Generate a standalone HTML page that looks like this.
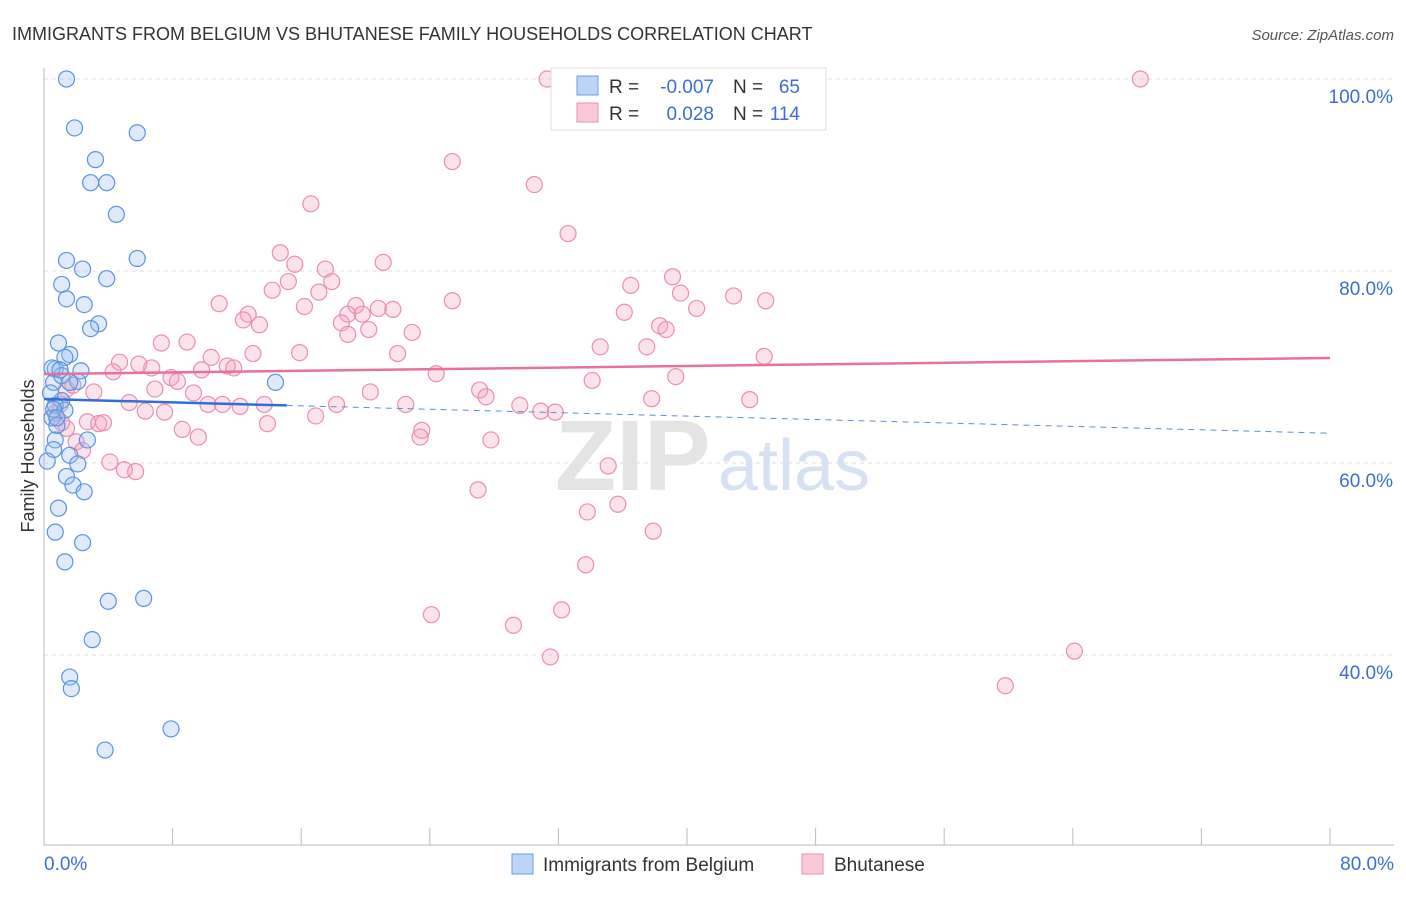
<!DOCTYPE html>
<html><head><meta charset="utf-8"><style>
body{margin:0;background:#fff;font-family:"Liberation Sans",sans-serif;}
svg text{font-family:"Liberation Sans",sans-serif;}
</style></head><body>
<svg id="chart" width="1406" height="892" xmlns="http://www.w3.org/2000/svg">
<text x="12" y="40" font-size="18" fill="#333">IMMIGRANTS FROM BELGIUM VS BHUTANESE FAMILY HOUSEHOLDS CORRELATION CHART</text>
<text x="1394" y="40" font-size="15" fill="#555" text-anchor="end" font-style="italic">Source: ZipAtlas.com</text>
<g id="grid"></g>
<text x="555" y="490" font-size="100" fill="#e4e4e4" font-family="Liberation Serif" font-weight="bold">ZIP</text>
<text x="718" y="490" font-size="72" fill="#d6e2f3">atlas</text>
<g id="pts"></g>
<g id="lines"></g>
<text transform="translate(34,456) rotate(-90)" font-size="18" fill="#333" text-anchor="middle">Family Households</text>
<g>
<rect x="551" y="68" width="275" height="62" fill="#fff" stroke="#ddd"/>
<rect x="577" y="76" width="21" height="19" fill="#bcd5f5" stroke="#6a9ee0"/>
<rect x="577" y="103" width="21" height="19" fill="#f9c9d8" stroke="#ea8fae"/>
<text x="609" y="93" font-size="19" fill="#333">R =</text>
<text x="714" y="93" font-size="19" fill="#3b6fd4" text-anchor="end">-0.007</text>
<text x="733" y="93" font-size="19" fill="#333">N =</text>
<text x="800" y="93" font-size="19" fill="#3b6fd4" text-anchor="end">65</text>
<text x="609" y="120" font-size="19" fill="#333">R =</text>
<text x="714" y="120" font-size="19" fill="#3b6fd4" text-anchor="end">0.028</text>
<text x="733" y="120" font-size="19" fill="#333">N =</text>
<text x="800" y="120" font-size="19" fill="#3b6fd4" text-anchor="end">114</text>
</g>
<g>
<rect x="512" y="854" width="21" height="20" fill="#bcd5f5" stroke="#6a9ee0"/>
<text x="543" y="871" font-size="19" fill="#333">Immigrants from Belgium</text>
<rect x="802" y="854" width="21" height="20" fill="#f9c9d8" stroke="#ea8fae"/>
<text x="834" y="871" font-size="19" fill="#333">Bhutanese</text>
</g>
</svg>
<script>
const yTicks=[40,60,80,100];
const yTickLabels=["40.0%","60.0%","80.0%","100.0%"];
const xTickLabels=["0.0%","80.0%"];
const blueX=[1.4,1.9,5.8,3.2,2.9,3.9,4.5,1.4,5.8,2.4,3.9,1.1,1.4,2.5,3.4,2.9,0.9,1.6,1.3,2.3,0.7,0.6,1.1,2.1,14.4,1.6,1.1,0.7,1.3,0.5,0.8,0.7,2.7,0.6,1.6,0.2,2.1,1.4,1.8,2.5,0.9,0.7,2.4,1.3,4.0,6.2,3.0,1.6,1.7,7.9,3.8,0.5,1.0,0.4,0.6,0.8];
const blueY=[100,94.9,94.4,91.6,89.2,89.2,85.9,81.1,81.3,80.2,79.2,78.6,77.1,76.5,74.5,74,72.5,71.3,71,69.6,69.8,68.4,69.1,68.5,68.4,68.4,66.5,66,65.5,64.7,63.9,62.4,62.4,61.4,60.8,60.2,59.9,58.6,57.7,57,55.3,52.8,51.7,49.7,45.6,45.9,41.6,37.7,36.5,32.3,30.1,69.9,69.7,67.3,65.6,64.7];
const pinkX=[31.3,68.2,25.4,30.5,16.6,32.6,14.7,15.6,21.1,17.5,17.9,39.1,36.5,15.2,14.2,17.1,39.6,42.9,44.9,25.4,10.9,16.2,40.6,19.4,18.9,20.8,21.7,36.1,12.7,12.4,13.4,18.5,19.8,18.9,20.2,22.9,38.3,38.7,7.3,8.9,34.6,37.5,13,15.9,22,10.4,44.8,4.7,5.9,6.7,11.4,11.8,9.8,4.3,24.4,39.3,34.1,7.9,8.3,3.1,6.9,9.3,20.3,27.1,27.5,37.8,43.9,10.2,11.1,12.2,13.7,22.5,5.3,6.3,7.5,18.2,29.6,30.9,31.8,16.9,2.7,3.4,3.7,13.9,1.4,8.6,9.6,23.5,23.4,27.8,2.0,2.4,4.1,5.0,5.7,35.1,27,35.7,33.8,37.9,33.7,24.1,32.2,29.2,64.1,31.5,59.8,1.0,1.1,0.7,1.4,1.8];
const pinkY=[100,100,91.4,89,87,83.9,81.9,80.7,80.9,80.2,78.9,79.4,78.5,78.9,78.0,77.8,77.7,77.4,76.9,76.9,76.6,76.3,76.1,76.4,75.5,76.1,76,75.7,75.5,74.9,74.4,74.6,75.5,73.4,73.9,73.6,74.3,73.9,72.5,72.6,72.1,72.1,71.4,71.5,71.4,71,71.1,70.5,70.3,69.9,70.1,69.9,69.7,69.5,69.3,69,68.6,68.9,68.5,67.4,67.7,67.3,67.4,67.6,66.9,66.7,66.6,66.1,66.1,65.9,66.1,66.1,66.3,65.4,65.3,66.1,66,65.4,65.3,64.9,64.3,64.1,64.2,64.1,63.6,63.5,62.7,63.4,62.7,62.4,62.2,61.3,60.1,59.3,59.1,59.7,57.2,55.7,54.9,52.9,49.4,44.2,44.7,43.1,40.4,39.8,36.8,66.1,64.2,65.2,67.7,68.1];
const pinkTrend=[69.27,70.94];
const blueTrend=[66.67,63.1];
const blueSolidEnd=15.1;
const NS="http://www.w3.org/2000/svg";
const X=v=>44+v*16.075, Y=v=>79+(100-v)*9.6;
function mk(t,a,p){const e=document.createElementNS(NS,t);for(const k in a)e.setAttribute(k,a[k]);p.appendChild(e);return e;}
const grid=document.getElementById('grid'),pts=document.getElementById('pts'),lines=document.getElementById('lines');
yTicks.forEach((t,i)=>{
 const l=mk('line',{x1:44,x2:1394,y1:Y(t),y2:Y(t),stroke:'#ddd','stroke-dasharray':'4,4'},grid);
 
 
 const tx=mk('text',{x:1393,y:Y(t)+24,'font-size':19,fill:'#3b6fd4','text-anchor':'end'},grid);tx.textContent=yTickLabels[i];
 
 
});
mk('line',{x1:44,x2:44,y1:68,y2:845,stroke:'#bbb'},grid);
mk('line',{x1:44,x2:1394,y1:845,y2:845,stroke:'#bbb'},grid);
for(let i=0;i<=10;i++){const l=mk('line',{x1:X(i*8),x2:X(i*8),y1:828,y2:845,stroke:'#bbb'},grid);
 
 }
[[0,'start',44],[80,'end',1394]].forEach((d,i)=>{const t=mk('text',{x:d[2],y:870,'font-size':19,fill:'#3b6fd4','text-anchor':d[1]},grid);t.textContent=xTickLabels[i];
 
 });
pinkX.forEach((x,i)=>{const c=mk('circle',{cx:X(x),cy:Y(pinkY[i]),r:8,fill:'rgba(244,160,190,0.3)',stroke:'#ea8fae','stroke-width':1.2},pts);
 
 });
blueX.forEach((x,i)=>{const c=mk('circle',{cx:X(x),cy:Y(blueY[i]),r:8,fill:'rgba(150,190,240,0.3)',stroke:'#5b93e0','stroke-width':1.2},pts);
 
 });
const pl=mk('line',{x1:X(0),y1:Y(pinkTrend[0]),x2:X(80),y2:Y(pinkTrend[1]),stroke:'#e8719b','stroke-width':2.5},lines);


const bAt=v=>blueTrend[0]+(blueTrend[1]-blueTrend[0])*v/80;
const bl=mk('line',{x1:X(0),y1:Y(bAt(0)),x2:X(blueSolidEnd),y2:Y(bAt(blueSolidEnd)),stroke:'#2f6fd6','stroke-width':2.5},lines);


const bd=mk('line',{x1:X(blueSolidEnd),y1:Y(bAt(blueSolidEnd)),x2:X(80),y2:Y(bAt(80)),stroke:'#5b8fd8','stroke-width':1,'stroke-dasharray':'6,5'},lines);


</script>
</body></html>
